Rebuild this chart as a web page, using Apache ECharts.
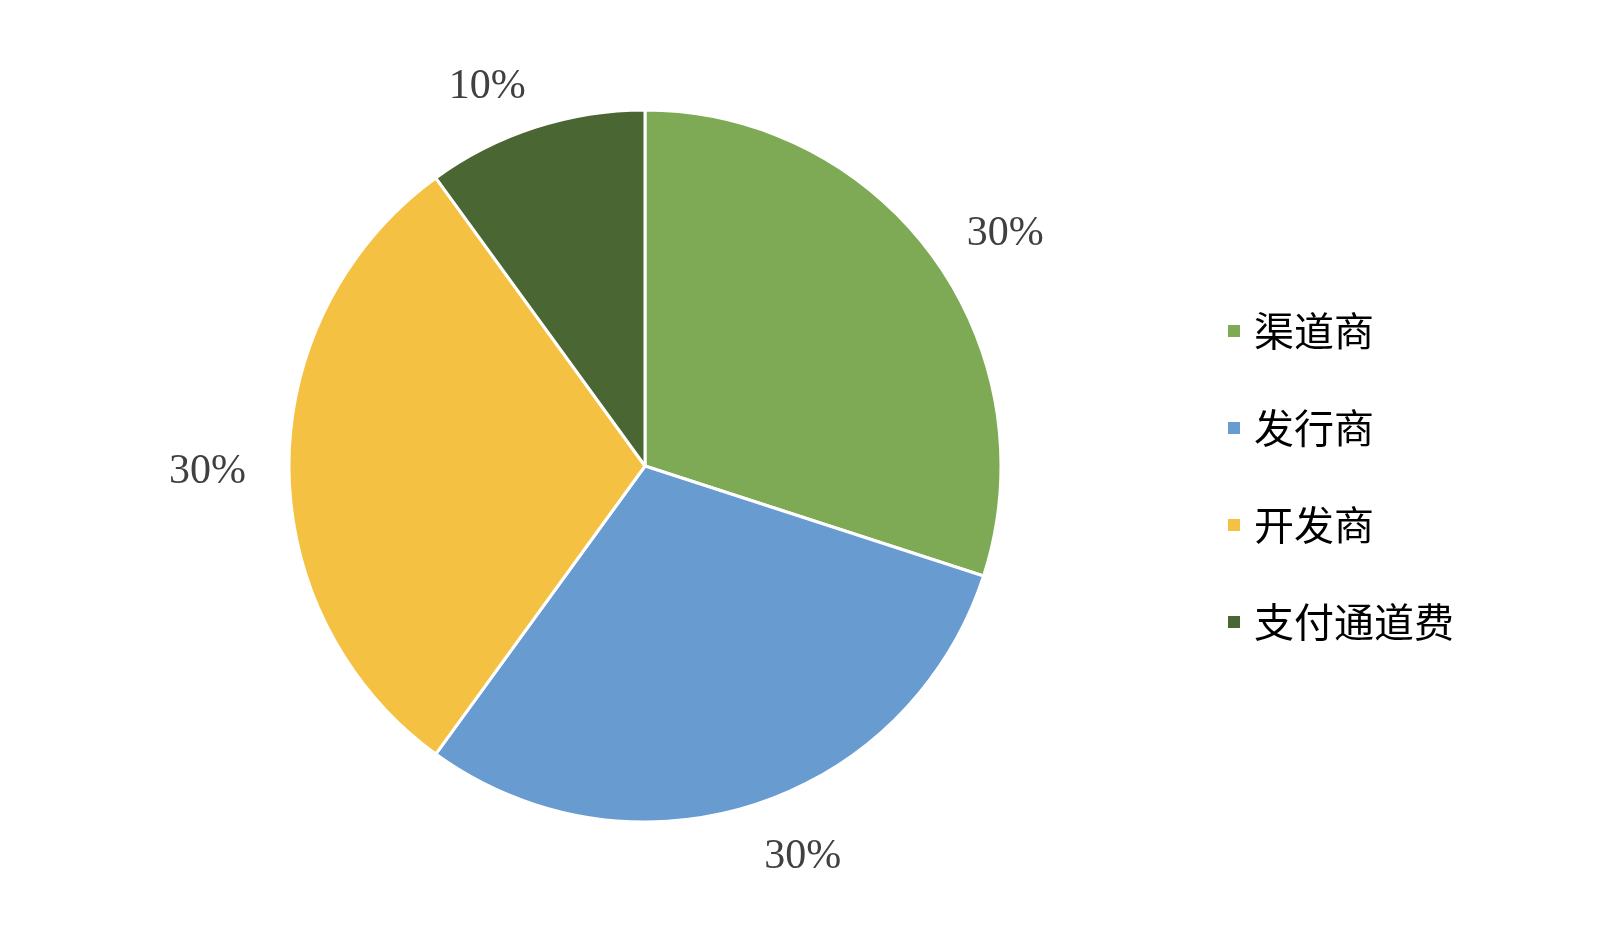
<!DOCTYPE html>
<html>
<head>
<meta charset="utf-8">
<script src="https://cdn.jsdelivr.net/npm/echarts@6/dist/echarts.min.js"></script>
<style>
html,body{margin:0;padding:0;background:#fff;}
#chart{width:1600px;height:933px;}
</style>
</head>
<body>
<div id="chart"></div>
<script>
const categories = ['渠道商', '发行商', '开发商', '支付通道费'];
const values = [30, 30, 30, 10];
const colors = ['#7EAA55', '#689BCF', '#F5C143', '#4A6632'];

const chart = echarts.init(document.getElementById('chart'));
chart.setOption({
  backgroundColor: '#ffffff',
  animation: false,
  legend: {
    orient: 'vertical',
    left: 1221,
    top: 306,
    itemWidth: 14,
    itemHeight: 14,
    itemGap: 57,
    icon: 'rect',
    data: categories,
    textStyle: {
      fontFamily: '"Noto Sans CJK SC", sans-serif',
      fontSize: 40,
      lineHeight: 40,
      color: '#000000',
      padding: [0, 0, 0, 8]
    }
  },
  series: [{
    type: 'pie',
    center: [645, 466],
    radius: 356,
    startAngle: 90,
    clockwise: true,
    avoidLabelOverlap: false,
    itemStyle: { borderColor: '#ffffff', borderWidth: 3 },
    label: {
      show: true,
      position: 'outside',
      formatter: '{s| }\n{v|{d}%}',
      distanceToLabelLine: 5,
      rich: {
        s: { fontSize: 10, lineHeight: 12 },
        v: {
          fontFamily: '"Liberation Serif", "Times New Roman", serif',
          fontSize: 42,
          lineHeight: 42,
          color: '#404040'
        }
      }
    },
    labelLine: { show: false, length: 49, length2: -11 },
    emphasis: { disabled: true },
    data: categories.map((c, i) => ({ name: c, value: values[i], itemStyle: { color: colors[i] } }))
  }]
});
</script>
</body>
</html>
